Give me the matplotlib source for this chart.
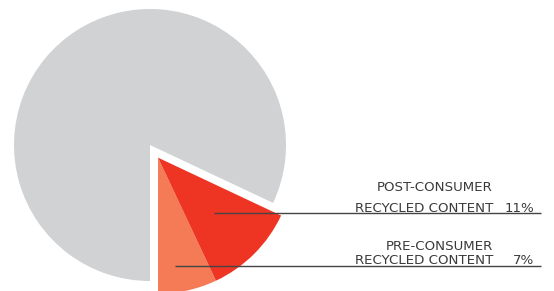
import math
import matplotlib
matplotlib.use("Agg")
import matplotlib.pyplot as plt

# pie data, counter-clockwise from straight down
labels = ["PRE-CONSUMER\nRECYCLED CONTENT", "POST-CONSUMER\nRECYCLED CONTENT", "OTHER"]
shares = [7, 11, 82]
pct_labels = ["7%", "11%", ""]
colors = ["#F47B55", "#EE3524", "#D1D2D4"]
pulled = [True, True, False]   # recycled slices are pulled out together

W, H = 554, 291
fig = plt.figure(figsize=(W / 100, H / 100), dpi=100)
ax = fig.add_axes([0, 0, 1, 1])

cx, cy, r = 150, H - 145, 136
gap = 15

# direction of the pulled-out group: middle angle of the recycled slices
total = sum(shares)
grp = sum(s for s, p in zip(shares, pulled) if p)
mid = math.radians(-90 + 360 * grp / total / 2)
ox, oy = gap * math.cos(mid), gap * math.sin(mid)

# base pie (only the remaining slice visible) and the shifted group
base_cols = ["none" if p else c for c, p in zip(colors, pulled)]
grp_cols = [c if p else "none" for c, p in zip(colors, pulled)]
ax.pie(shares, colors=base_cols, startangle=-90, counterclock=True,
       center=(cx, cy), radius=r, wedgeprops=dict(linewidth=0))
ax.pie(shares, colors=grp_cols, startangle=-90, counterclock=True,
       center=(cx + ox, cy + oy), radius=r, wedgeprops=dict(linewidth=0))

ax.set_xlim(0, W)
ax.set_ylim(0, H)
ax.set_aspect("equal")
ax.axis("off")

FONT = ["Liberation Sans Narrow", "DejaVu Sans"]
TXT = "#3a3a3a"

# leader lines and labels: (line start x, line y, label line1 y, label line2 y)
leaders = [(175, H - 266, H - 246, H - 261), (214, H - 212.5, H - 187.5, H - 208)]
for i, (x0, ly, y1, y2) in enumerate(leaders):
    ax.plot([x0, 541], [ly, ly], color="#444444", lw=1, solid_capstyle="butt")
    top, bottom = labels[i].split("\n")
    ax.text(493, y1, top, ha="right", va="center", fontsize=9.6, color=TXT, family=FONT)
    ax.text(493, y2, bottom, ha="right", va="center", fontsize=9.6, color=TXT, family=FONT)
    ax.text(534, y2, pct_labels[i], ha="right", va="center", fontsize=9.6, color=TXT, family=FONT)

fig.savefig("out.png", dpi=100)
